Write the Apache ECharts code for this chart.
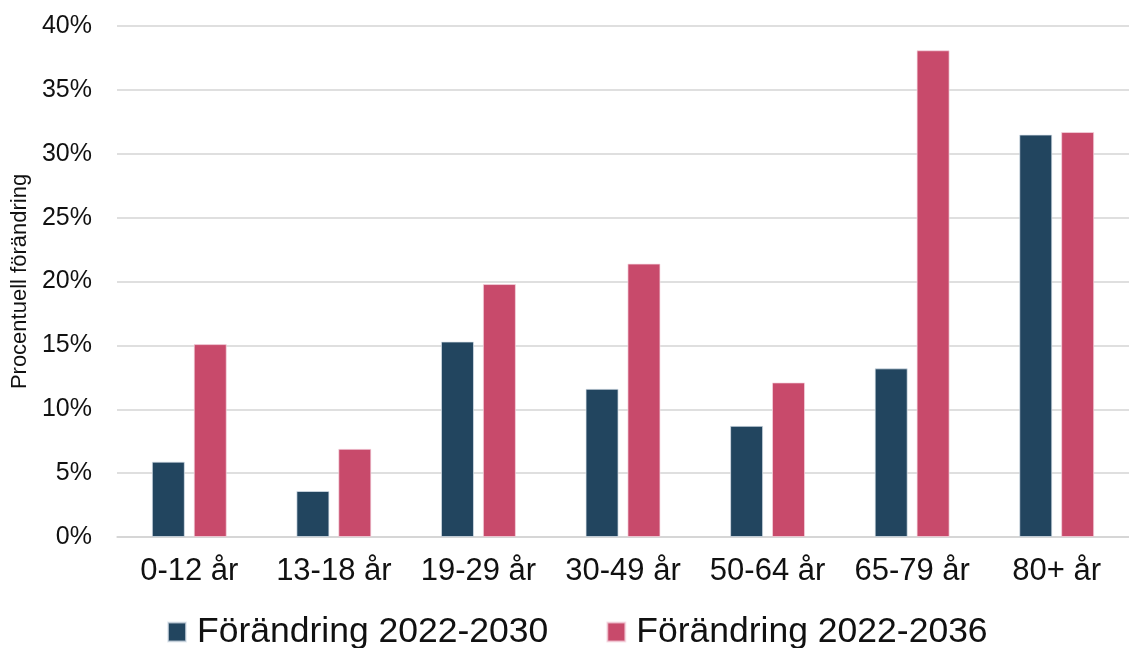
<!DOCTYPE html>
<html>
<head>
<meta charset="utf-8">
<script src="https://cdn.jsdelivr.net/npm/echarts@6/dist/echarts.min.js"></script>
<style>
  html, body { margin: 0; padding: 0; background: #ffffff; }
  #chart { width: 1129px; height: 648px; }
</style>
</head>
<body>
<div id="chart"></div>
<script>
// Age groups and the projected percentage change for each period
const categories = ['0-12 år', '13-18 år', '19-29 år', '30-49 år', '50-64 år', '65-79 år', '80+ år'];
const seriesNames = ['Förändring 2022-2030', 'Förändring 2022-2036'];
const change2030 = [5.9, 3.6, 15.3, 11.6, 8.7, 13.2, 31.5];
const change2036 = [15.1, 6.9, 19.8, 21.4, 12.1, 38.1, 31.7];
const yTicks = [0, 5, 10, 15, 20, 25, 30, 35, 40];

const FONT = '"Liberation Sans", Arial, sans-serif';
const colors = ['#22455f', '#c84a6b'];

const chart = echarts.init(document.getElementById('chart'), null, { renderer: 'canvas' });

chart.setOption({
  animation: false,
  backgroundColor: '#ffffff',
  color: colors,
  textStyle: { fontFamily: FONT, color: '#1a1a1a' },
  grid: { left: 117, right: 0, top: 26, bottom: 111, containLabel: false, outerBoundsMode: 'none' },
  legend: {
    data: seriesNames,
    top: 614,
    left: 167,
    padding: 0,
    itemWidth: 18,
    itemHeight: 19,
    itemGap: 58,
    icon: 'rect',
    textStyle: { fontFamily: FONT, fontSize: 35.5, color: '#111111', padding: [0, 0, 0, 6] }
  },
  xAxis: {
    type: 'category',
    data: categories,
    axisTick: { show: false },
    axisLine: { show: true, lineStyle: { color: '#d4d4d4', width: 1.5 } },
    axisLabel: { fontFamily: FONT, fontSize: 31, color: '#111111', margin: 19, interval: 0 }
  },
  yAxis: {
    type: 'value',
    min: yTicks[0],
    max: yTicks[yTicks.length - 1],
    interval: yTicks[1] - yTicks[0],
    name: 'Procentuell förändring',
    nameLocation: 'middle',
    nameGap: 84,
    nameRotate: 90,
    nameTextStyle: { fontFamily: FONT, fontSize: 22, color: '#111111' },
    axisLine: { show: false },
    axisTick: { show: false },
    axisLabel: { fontFamily: FONT, fontSize: 25, color: '#111111', margin: 25, formatter: '{value}%' },
    splitLine: { lineStyle: { color: '#d4d4d4', width: 1.5 } }
  },
  series: [
    {
      name: seriesNames[0],
      type: 'bar',
      data: change2030,
      barWidth: 33,
      barGap: '27%',
      itemStyle: { color: colors[0], borderColor: 'rgba(220,228,236,0.7)', borderWidth: 1 }
    },
    {
      name: seriesNames[1],
      type: 'bar',
      data: change2036,
      barWidth: 33,
      barGap: '27%',
      itemStyle: { color: colors[1], borderColor: 'rgba(245,215,225,0.7)', borderWidth: 1 }
    }
  ]
});
</script>
</body>
</html>
